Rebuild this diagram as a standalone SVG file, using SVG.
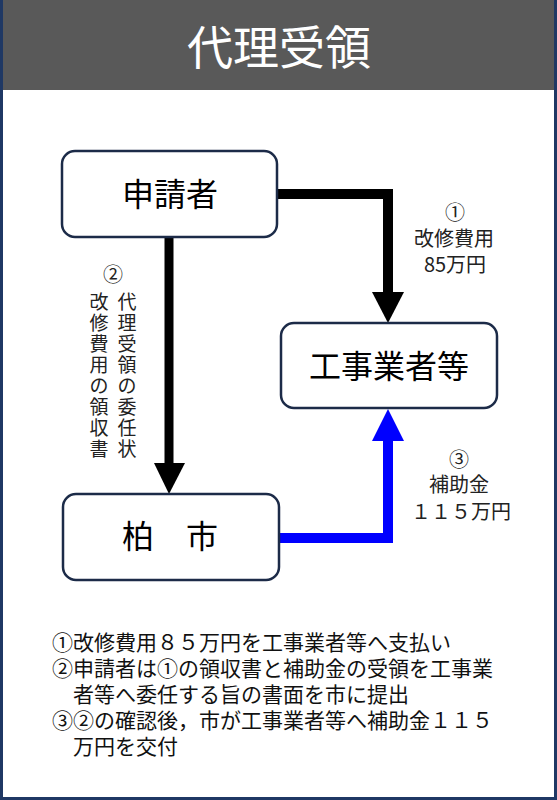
<svg xmlns="http://www.w3.org/2000/svg" width="557" height="800" viewBox="0 0 557 800">
<style>
text{font-family:"Noto Sans CJK JP","Noto Sans CJK SC",sans-serif;fill:#000}
.box{fill:#fff;stroke:#1c2b48;stroke-width:2.5}
.node{font-size:32px;text-anchor:middle}
.lbl{font-size:20px;text-anchor:middle;fill:#222}
.v{font-size:19px;text-anchor:middle;fill:#222}
.note{font-size:21px;fill:#111}
</style>
<rect x="0" y="0" width="557" height="800" fill="#fff"/>
<rect x="0" y="0" width="557" height="90" fill="#595959"/>
<path d="M1.5 0V798.5H555.5V0" fill="none" stroke="#1f3864" stroke-width="3"/>
<text x="279" y="64" font-size="46" text-anchor="middle" style="fill:#fff">代理受領</text>

<g id="connectors">
  <polyline points="277,194 388,194 388,293" fill="none" stroke="#000" stroke-width="10"/>
  <polygon points="372,292 404,292 388,323" fill="#000"/>
  <line x1="169" y1="237" x2="169" y2="464" stroke="#000" stroke-width="9"/>
  <polygon points="154,463 185,463 169,494" fill="#000"/>
  <polyline points="279,538 388,538 388,440" fill="none" stroke="#0000ff" stroke-width="10"/>
  <polygon points="372,441 404,441 388,409" fill="#0000ff"/>
</g>

<g id="label1">
  <text class="lbl" x="455" y="220">①</text>
  <text class="lbl" x="454" y="246">改修費用</text>
  <text class="lbl" x="455" y="272">85万円</text>
</g>
<g id="label2">
  <text class="lbl" x="113" y="282">②</text>
  <text class="v" x="127" y="309">代</text>
  <text class="v" x="127" y="330">理</text>
  <text class="v" x="127" y="351">受</text>
  <text class="v" x="127" y="372">領</text>
  <text class="v" x="127" y="393">の</text>
  <text class="v" x="127" y="414">委</text>
  <text class="v" x="127" y="435">任</text>
  <text class="v" x="127" y="456">状</text>
  <text class="v" x="99" y="309">改</text>
  <text class="v" x="99" y="330">修</text>
  <text class="v" x="99" y="351">費</text>
  <text class="v" x="99" y="372">用</text>
  <text class="v" x="99" y="393">の</text>
  <text class="v" x="99" y="414">領</text>
  <text class="v" x="99" y="435">収</text>
  <text class="v" x="99" y="456">書</text>
</g>
<g id="label3">
  <text class="lbl" x="459" y="467">③</text>
  <text class="lbl" x="459" y="492">補助金</text>
  <text class="lbl" x="461" y="519">１１５万円</text>
</g>

<g id="node-applicant">
  <rect class="box" x="62" y="151" width="215" height="86" rx="13"/>
  <text class="node" x="170" y="206">申請者</text>
</g>
<g id="node-contractor">
  <rect class="box" x="281" y="323" width="216" height="85" rx="13"/>
  <text class="node" x="389" y="378">工事業者等</text>
</g>
<g id="node-city">
  <rect class="box" x="63" y="494" width="216" height="86" rx="13"/>
  <text class="node" x="170" y="548">柏　市</text>
</g>

<g id="notes">
  <text class="note" x="52" y="650">①改修費用８５万円を工事業者等へ支払い</text>
  <text class="note" x="52" y="676">②申請者は①の領収書と補助金の受領を工事業</text>
  <text class="note" x="73" y="702">者等へ委任する旨の書面を市に提出</text>
  <text class="note" x="52" y="728">③②の確認後，市が工事業者等へ補助金１１５</text>
  <text class="note" x="73" y="754">万円を交付</text>
</g>
</svg>
